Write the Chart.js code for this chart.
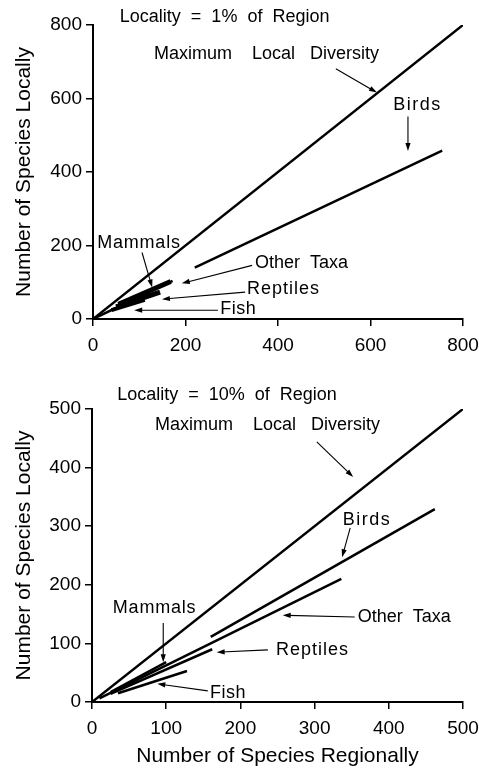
<!DOCTYPE html>
<html>
<head>
<meta charset="utf-8">
<script src="https://cdn.jsdelivr.net/npm/chart.js@4.4.0/dist/chart.umd.min.js"></script>
<style>
  html, body { margin: 0; padding: 0; background: #fff; }
  #wrap { position: relative; width: 479px; height: 772px; }
  .panel { position: absolute; left: 0; width: 479px; }
  #p1 { top: 0; height: 355px; }
  #p2 { top: 355px; height: 417px; }
</style>
</head>
<body>
<div id="wrap">
  <div class="panel" id="p1"><canvas id="c1"></canvas></div>
  <div class="panel" id="p2"><canvas id="c2"></canvas></div>
</div>
<script>
// Local vs regional species richness: regression lines per taxon.
const taxa = ['Maximum Local Diversity', 'Birds', 'Other Taxa', 'Mammals', 'Reptiles', 'Fish'];

// Locality = 1% of Region
const ticks1 = [0, 200, 400, 600, 800];
const maxLocal1  = [{x: 0, y: 0},   {x: 800, y: 800}];
const birds1     = [{x: 220, y: 140}, {x: 755, y: 458}];
const otherTaxa1 = [{x: 0, y: 0},   {x: 172, y: 104}];
const mammals1   = [{x: 55, y: 40}, {x: 168, y: 102}];
const reptiles1  = [{x: 50, y: 33}, {x: 145, y: 73}];
const fish1      = [{x: 40, y: 24}, {x: 112, y: 52}];

// Locality = 10% of Region
const ticks2 = [0, 100, 200, 300, 400, 500];
const maxLocal2  = [{x: 0, y: 0},   {x: 500, y: 500}];
const birds2     = [{x: 160, y: 111}, {x: 462, y: 329}];
const otherTaxa2 = [{x: 10, y: 6},  {x: 336, y: 210}];
const mammals2   = [{x: 25, y: 17}, {x: 100, y: 68}];
const reptiles2  = [{x: 25, y: 14}, {x: 162, y: 90}];
const fish2      = [{x: 35, y: 15}, {x: 128, y: 53}];

// Text labels with pointer arrows, placed in data units.
const notes1 = [
  {text: 'Locality  =  1%  of  Region', x: 58, y: 822},
  {text: 'Maximum    Local   Diversity', x: 132, y: 722, a: [525, 681, 614, 616]},
  {text: 'Birds', x: 649, y: 581, ls: 1.5, a: [681, 551, 681, 457]},
  {text: 'Mammals', x: 9, y: 208, ls: 0.8, a: [106, 181, 128, 86]},
  {text: 'Other  Taxa', x: 350, y: 151, a: [344, 146, 192, 97]},
  {text: 'Reptiles', x: 333, y: 81, ls: 1, a: [329, 73, 149, 54]},
  {text: 'Fish', x: 275, y: 27, ls: 0.5, a: [270, 24, 89, 24]}
];
const notes2 = [
  {text: 'Locality  =  10%  of  Region', x: 34, y: 524},
  {text: 'Maximum    Local   Diversity', x: 85, y: 473, a: [303, 444, 352, 384]},
  {text: 'Birds', x: 338, y: 311, ls: 1.5, a: [348, 297, 337, 247]},
  {text: 'Mammals', x: 28, y: 160, ls: 0.8, a: [96, 135, 96, 68]},
  {text: 'Other  Taxa', x: 358, y: 145, a: [354, 145, 257, 148]},
  {text: 'Reptiles', x: 248, y: 89, ls: 1, a: [237, 89, 168, 85]},
  {text: 'Fish', x: 159, y: 15, ls: 0.5, a: [156, 19, 88, 31]}
];

const FONT = '"Liberation Sans", Arial, Helvetica, sans-serif';

function notesPlugin(items) {
  return {
    id: 'notes',
    afterDatasetsDraw(chart) {
      const {ctx} = chart;
      const sx = chart.scales.x, sy = chart.scales.y;
      ctx.save();
      ctx.fillStyle = '#000';
      ctx.strokeStyle = '#000';
      ctx.font = '18px ' + FONT;
      ctx.textBaseline = 'middle';
      ctx.textAlign = 'left';
      for (const n of items) {
        ctx.letterSpacing = (n.ls || 0) + 'px';
        ctx.fillText(n.text, sx.getPixelForValue(n.x), sy.getPixelForValue(n.y));
        if (n.a) {
          const x1 = sx.getPixelForValue(n.a[0]), y1 = sy.getPixelForValue(n.a[1]);
          const x2 = sx.getPixelForValue(n.a[2]), y2 = sy.getPixelForValue(n.a[3]);
          const ang = Math.atan2(y2 - y1, x2 - x1);
          const L = 8, W = 2.6;
          ctx.lineWidth = 1.1;
          ctx.beginPath();
          ctx.moveTo(x1, y1);
          ctx.lineTo(x2 - Math.cos(ang) * L * 0.6, y2 - Math.sin(ang) * L * 0.6);
          ctx.stroke();
          ctx.beginPath();
          ctx.moveTo(x2, y2);
          ctx.lineTo(x2 - Math.cos(ang) * L - Math.sin(ang) * W, y2 - Math.sin(ang) * L + Math.cos(ang) * W);
          ctx.lineTo(x2 - Math.cos(ang) * L + Math.sin(ang) * W, y2 - Math.sin(ang) * L - Math.cos(ang) * W);
          ctx.closePath();
          ctx.fill();
        }
      }
      ctx.restore();
    }
  };
}

function lineSet(label, data, width) {
  return {
    label, data,
    showLine: true,
    borderColor: '#000',
    backgroundColor: '#000',
    borderWidth: width,
    pointRadius: 0,
    pointHoverRadius: 0,
    borderCapStyle: 'butt',
    tension: 0,
    fill: false
  };
}

function axis(ticksArr, opts) {
  return {
    type: 'linear',
    min: ticksArr[0],
    max: ticksArr[ticksArr.length - 1],
    afterBuildTicks: s => { s.ticks = ticksArr.map(v => ({value: v})); },
    grid: {display: true, drawOnChartArea: false, drawTicks: true, tickLength: 7, color: '#000', lineWidth: 1.5},
    border: {display: true, color: '#000', width: 2},
    ticks: {color: '#000', font: {family: FONT, size: 19}, padding: opts.tickPad, maxRotation: 0, autoSkip: false},
    title: opts.title,
    afterFit: s => {
      opts.afterFit(s);
      // labels may overhang the plot edges; keep the plot area fixed
      s.paddingLeft = 0; s.paddingRight = 0; s.paddingTop = 0; s.paddingBottom = 0;
    }
  };
}

function makeChart(id, sets, ticksArr, notes, cfg) {
  return new Chart(document.getElementById(id), {
    type: 'scatter',
    data: {datasets: sets},
    options: {
      responsive: true,
      maintainAspectRatio: false,
      animation: false,
      events: [],
      layout: {padding: cfg.padding},
      plugins: {legend: {display: false}, tooltip: {enabled: false}},
      scales: {
        x: axis(ticksArr, {
          tickPad: 8,
          title: cfg.xTitle,
          afterFit: s => { s.height = cfg.xHeight; }
        }),
        y: axis(ticksArr, {
          tickPad: 4,
          title: {display: true, text: 'Number of Species Locally', color: '#000',
                  font: {family: FONT, size: 21}, padding: {top: 12, bottom: 0}},
          afterFit: s => { s.width = cfg.yWidth; }
        })
      }
    },
    plugins: [notesPlugin(notes)]
  });
}

makeChart('c1', [
  lineSet(taxa[0], maxLocal1, 2.5),
  lineSet(taxa[1], birds1, 2.5),
  lineSet(taxa[2], otherTaxa1, 2.5),
  lineSet(taxa[3], mammals1, 5),
  lineSet(taxa[4], reptiles1, 5),
  lineSet(taxa[5], fish1, 4)
], ticks1, notes1, {
  padding: {top: 25, right: 16, left: 0, bottom: 0},
  xHeight: 36, yWidth: 93,
  xTitle: {display: false}
});

makeChart('c2', [
  lineSet(taxa[0], maxLocal2, 2.5),
  lineSet(taxa[1], birds2, 2.5),
  lineSet(taxa[2], otherTaxa2, 2.5),
  lineSet(taxa[3], mammals2, 2.5),
  lineSet(taxa[4], reptiles2, 2.5),
  lineSet(taxa[5], fish2, 2.5)
], ticks2, notes2, {
  padding: {top: 54, right: 16, left: 0, bottom: 1},
  xHeight: 69, yWidth: 92,
  xTitle: {display: true, text: 'Number of Species Regionally', color: '#000',
           font: {family: FONT, size: 21}, padding: {top: 0, bottom: 2}}
});
</script>
</body>
</html>
